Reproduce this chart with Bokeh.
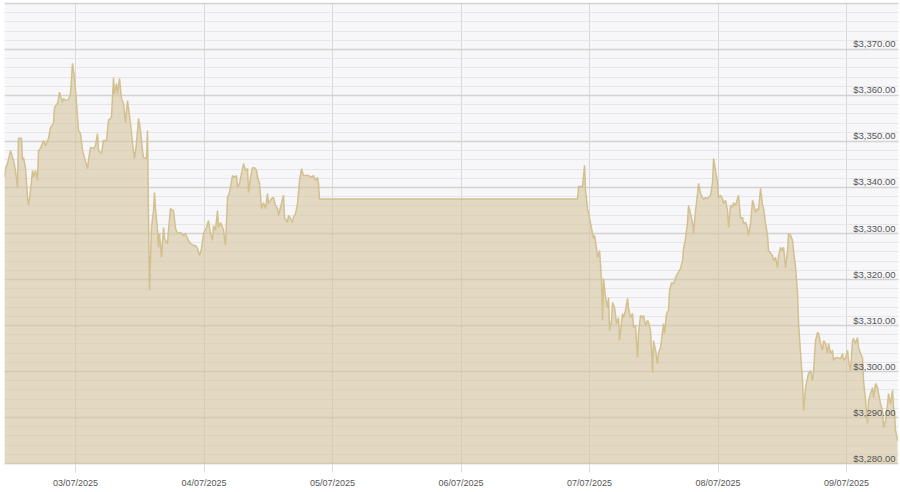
import pandas as pd
from bokeh.plotting import figure
from bokeh.models import FixedTicker, DatetimeTickFormatter, Range1d, ColumnDataSource
from bokeh.core.properties import value
from bokeh.embed import file_html
from bokeh.resources import INLINE

# hours relative to 03/07/2025 00:00
hours = [
    -13.26, -13.07, -12.70, -12.14, -11.58, -11.21, -10.83, -10.65, -10.09, -9.90,
    -9.71, -9.34, -8.96, -8.78, -8.40, -8.03, -7.84, -7.47, -7.10, -6.91,
    -6.54, -5.98, -5.60, -5.04, -4.67, -4.11, -3.92, -3.36, -2.99, -2.43,
    -2.24, -1.87, -1.31, -0.93, -0.56, -0.19, 0.19, 0.56, 0.93, 1.31,
    1.68, 2.24, 2.43, 2.80, 3.36, 3.74, 4.11, 4.30, 4.86, 5.23,
    5.79, 6.16, 6.72, 7.10, 7.28, 7.66, 7.84, 8.22, 8.59, 8.96,
    9.34, 9.71, 10.27, 10.65, 11.02, 11.39, 11.77, 12.14, 12.51, 12.70,
    13.26, 13.45, 13.63, 13.82, 14.19, 14.57, 14.75, 14.94, 15.32, 15.50,
    15.69, 16.06, 16.44, 16.62, 17.18, 17.37, 17.74, 18.12, 18.30, 18.68,
    19.05, 19.61, 20.17, 20.54, 20.92, 21.48, 22.04, 22.41, 22.79, 23.16,
    23.53, 23.91, 24.47, 24.84, 25.21, 25.59, 25.77, 26.15, 26.52, 26.71,
    27.08, 27.46, 27.64, 28.02, 28.39, 28.76, 29.32, 29.70, 30.07, 30.26,
    30.63, 31.00, 31.38, 31.75, 32.12, 32.31, 32.68, 33.06, 33.43, 33.81,
    33.99, 34.37, 34.74, 35.11, 35.49, 35.86, 36.05, 36.61, 36.98, 37.35,
    37.73, 37.91, 38.29, 38.85, 39.03, 39.59, 39.78, 40.16, 40.53, 40.72,
    41.09, 41.46, 41.84, 42.21, 42.58, 42.96, 43.52, 44.08, 44.45, 44.82,
    45.20, 45.38, 45.57,
    93.76, 93.95, 94.69, 95.07, 95.25, 95.63, 95.81, 96.19, 96.56, 96.75,
    96.93, 97.31, 97.49, 97.87, 98.24, 98.43, 98.61, 98.99, 99.36, 99.55,
    99.74, 100.11, 100.30, 100.67, 101.04, 101.42, 101.60, 102.16, 102.35, 102.72,
    103.10, 103.28, 103.66, 104.03, 104.22, 104.59, 104.96, 105.15, 105.52, 105.90,
    106.08, 106.46, 106.83, 107.02, 107.39, 107.77, 107.95, 108.33, 108.70, 108.89,
    109.26, 109.82, 110.01, 110.38, 110.76, 110.94, 111.32, 111.69, 112.06, 112.44,
    113.00, 113.37, 113.56, 113.93, 114.30, 114.49, 114.86, 115.24, 115.42, 115.80,
    116.17, 116.36, 116.73, 117.10, 117.29, 117.67, 118.04, 118.60, 118.97, 119.16,
    119.53, 119.91, 120.09,
    120.47, 120.84, 121.03, 121.40, 121.77, 121.96, 122.33, 122.71, 122.89, 123.27,
    123.64, 123.83, 124.20, 124.57, 124.76, 125.13, 125.51, 125.69, 126.07, 126.44,
    126.63, 127.00, 127.38, 127.56, 127.94, 128.31, 128.50, 128.87, 129.24, 129.43,
    129.81, 130.18, 130.37, 130.74, 131.11, 131.30, 131.67, 132.05, 132.23, 132.61,
    132.98, 133.17, 133.54, 133.91, 134.10, 134.47, 134.85, 135.04, 135.41, 135.78,
    135.97, 136.34, 136.72, 136.90, 137.28, 137.65, 137.84, 138.21, 138.58, 138.77,
    139.14, 139.52, 139.70, 140.08, 140.45, 140.64, 141.01, 141.38, 141.57, 141.95,
    142.32, 142.88, 143.25, 143.44, 143.81, 144.19, 144.37, 144.75, 145.12, 145.31,
    145.68, 146.05, 146.24, 146.61, 146.99, 147.17, 147.55, 147.92, 148.11, 148.48,
    148.85, 149.04, 149.42, 149.79, 149.98, 150.35, 150.72, 150.91, 151.28, 151.66,
    151.84, 152.21, 152.59, 152.77, 152.96, 153.15, 153.52,
]

prices = [
    3342.2, 3344.1, 3345.2, 3348.0, 3345.9, 3343.7, 3340.0, 3350.7, 3350.7, 3345.9,
    3346.5, 3344.3, 3337.8, 3336.1, 3339.3, 3343.7, 3342.2, 3343.7, 3341.5, 3348.0,
    3348.5, 3350.2, 3349.1, 3350.7, 3353.0, 3353.9, 3357.4, 3358.3, 3360.7, 3358.5,
    3359.3, 3358.9, 3359.1, 3360.4, 3367.0, 3363.9, 3358.3, 3352.4, 3351.7, 3348.0,
    3346.5, 3344.1, 3345.9, 3348.7, 3348.5, 3349.1, 3351.7, 3348.0, 3347.4, 3350.2,
    3350.2, 3354.6, 3355.2, 3363.9, 3360.4, 3362.6, 3360.4, 3363.7, 3359.3, 3358.3,
    3354.1, 3358.9, 3353.9, 3349.6, 3346.3, 3349.6, 3355.0, 3352.4, 3348.0, 3346.5,
    3346.3, 3352.4, 3333.5, 3317.6, 3331.3, 3335.0, 3338.9, 3335.4, 3330.7, 3327.0,
    3330.0, 3324.8, 3331.3, 3328.9, 3327.8, 3330.7, 3335.4, 3335.0, 3335.0, 3331.1,
    3330.0, 3330.2, 3329.6, 3330.0, 3328.9, 3327.8, 3327.4, 3327.4, 3326.7, 3325.2,
    3326.7, 3330.0, 3331.3, 3332.8, 3330.0, 3328.5, 3331.7, 3330.7, 3335.0, 3331.3,
    3332.4, 3331.3, 3330.7, 3327.4, 3337.8, 3338.9, 3342.6, 3342.2, 3342.6, 3340.0,
    3340.9, 3343.0, 3345.2, 3343.7, 3344.1, 3338.9, 3342.2, 3344.3, 3344.3, 3343.7,
    3342.2, 3340.9, 3335.4, 3336.7, 3335.4, 3338.7, 3336.5, 3337.6, 3337.8, 3336.1,
    3335.4, 3333.9, 3335.7, 3338.3, 3333.5, 3332.4, 3333.9, 3333.3, 3332.4, 3333.5,
    3334.3, 3336.5, 3341.5, 3344.1, 3342.6, 3342.6, 3342.6, 3342.2, 3342.6, 3341.5,
    3342.2, 3340.9, 3337.5,
    3337.5, 3340.2, 3340.2, 3344.8, 3339.3, 3335.4, 3334.6, 3332.2, 3330.0, 3328.9,
    3329.6, 3326.7, 3324.8, 3326.3, 3319.8, 3311.1, 3320.2, 3316.1, 3313.9, 3316.1,
    3308.9, 3311.1, 3315.0, 3313.9, 3310.4, 3311.7, 3306.7, 3312.6, 3311.7, 3313.3,
    3315.9, 3313.7, 3311.7, 3312.6, 3309.6, 3310.0, 3303.0, 3308.3, 3312.2, 3311.7,
    3312.2, 3310.0, 3311.1, 3310.7, 3308.9, 3299.8, 3306.7, 3304.6, 3301.7, 3304.1,
    3305.2, 3310.4, 3308.3, 3312.6, 3313.3, 3317.6, 3319.3, 3319.1, 3320.4, 3321.3,
    3322.4, 3324.1, 3326.7, 3328.9, 3332.4, 3336.1, 3334.3, 3332.2, 3330.0, 3335.0,
    3338.7, 3340.9, 3338.7, 3337.8, 3337.4, 3337.8, 3337.6, 3338.3, 3341.1, 3346.3,
    3343.7, 3341.1, 3337.8,
    3338.3, 3337.6, 3336.5, 3337.2, 3335.0, 3331.3, 3336.1, 3335.7, 3336.7, 3336.1,
    3337.6, 3338.3, 3333.3, 3333.5, 3332.2, 3332.4, 3331.1, 3329.6, 3332.2, 3337.2,
    3336.5, 3334.6, 3335.4, 3335.0, 3339.8, 3336.1, 3335.4, 3332.2, 3329.6, 3326.3,
    3325.7, 3325.2, 3324.1, 3324.8, 3322.6, 3325.2, 3327.0, 3326.3, 3327.0, 3322.6,
    3326.3, 3330.0, 3329.6, 3328.5, 3326.3, 3322.6, 3317.0, 3310.4, 3303.9, 3298.0,
    3291.5, 3296.5, 3298.7, 3299.6, 3300.2, 3298.0, 3300.2, 3306.7, 3308.5, 3308.3,
    3306.1, 3304.6, 3306.7, 3306.1, 3303.9, 3306.1, 3303.9, 3304.6, 3302.4, 3303.0,
    3303.0, 3302.8, 3303.9, 3302.4, 3303.0, 3304.6, 3302.4, 3300.2, 3306.7, 3307.2,
    3306.1, 3307.4, 3305.2, 3303.9, 3303.0, 3298.0, 3293.7, 3288.7, 3293.7, 3295.2,
    3296.5, 3294.3, 3297.4, 3296.5, 3295.2, 3293.0, 3291.5, 3287.8, 3289.3, 3293.0,
    3295.2, 3293.0, 3295.9, 3292.2, 3290.9, 3287.2, 3285.0,
]

tick_dates = ["2025-07-03", "2025-07-04", "2025-07-05", "2025-07-06",
              "2025-07-07", "2025-07-08", "2025-07-09"]
y_ticks = [3280, 3290, 3300, 3310, 3320, 3330, 3340, 3350, 3360, 3370, 3380]
y_minor = [3280 + 2 * i for i in range(51)]
y_labels = ["$3,280.00", "$3,290.00", "$3,300.00", "$3,310.00", "$3,320.00",
            "$3,330.00", "$3,340.00", "$3,350.00", "$3,360.00", "$3,370.00"]

base = pd.Timestamp("2025-07-03")
times = [base + pd.Timedelta(hours=h) for h in hours]

y0, y1 = 3279.8, 3380.2
x0 = base + pd.Timedelta(hours=-13.26)
x1 = base + pd.Timedelta(hours=153.7)

p = figure(width=900, height=490, x_axis_type="datetime",
           output_backend="svg", toolbar_location=None,
           x_range=Range1d(x0, x1), y_range=Range1d(y0, y1),
           min_border_left=4, min_border_right=2, min_border_top=2, min_border_bottom=0)

p.background_fill_color = "#f7f7f9"
p.border_fill_color = "white"
p.outline_line_color = None

src = ColumnDataSource(dict(t=times, v=prices, b=[y0] * len(prices)))
p.varea(x="t", y1="b", y2="v", source=src, fill_color="#d6c59c", fill_alpha=0.6)
p.line(x="t", y="v", source=src, line_color="#d3c08f", line_width=1.5)

# axes
p.yaxis.visible = False
p.yaxis.ticker = FixedTicker(ticks=y_ticks, minor_ticks=y_minor)
p.ygrid.grid_line_color = "#d2d2d2"
p.ygrid.grid_line_width = 1.5
p.ygrid.minor_grid_line_color = "#e6e6e8"
p.ygrid.minor_grid_line_width = 1

tick_ms = [pd.Timestamp(d).value // 10**6 for d in tick_dates]
p.xaxis.ticker = FixedTicker(ticks=tick_ms)
p.xaxis.formatter = DatetimeTickFormatter(days="%d/%m/%Y", months="%d/%m/%Y",
                                          hours="%d/%m/%Y")
p.xaxis.axis_line_color = None
p.xaxis.major_tick_in = 0
p.xaxis.major_tick_out = 8
p.xaxis.major_tick_line_color = "#dcdcdc"
p.xaxis.minor_tick_line_color = None
p.xaxis.major_label_standoff = 5
p.xaxis.major_label_text_font = "Liberation Sans"
p.xaxis.major_label_text_font_size = "9px"
p.xaxis.major_label_text_color = "#555555"
p.xgrid.grid_line_color = "#d9d9d9"
p.xgrid.grid_line_width = 1

# price labels inside the plot, right aligned
p.text(x=[x1] * len(y_labels), y=y_ticks[:len(y_labels)], text=y_labels,
       text_align="right", text_baseline="bottom", x_offset=-3, y_offset=0,
       text_font=value("Liberation Sans"), text_font_size="9.5px",
       text_color="#555555")

open("out.html", "w").write(file_html(p, INLINE))
